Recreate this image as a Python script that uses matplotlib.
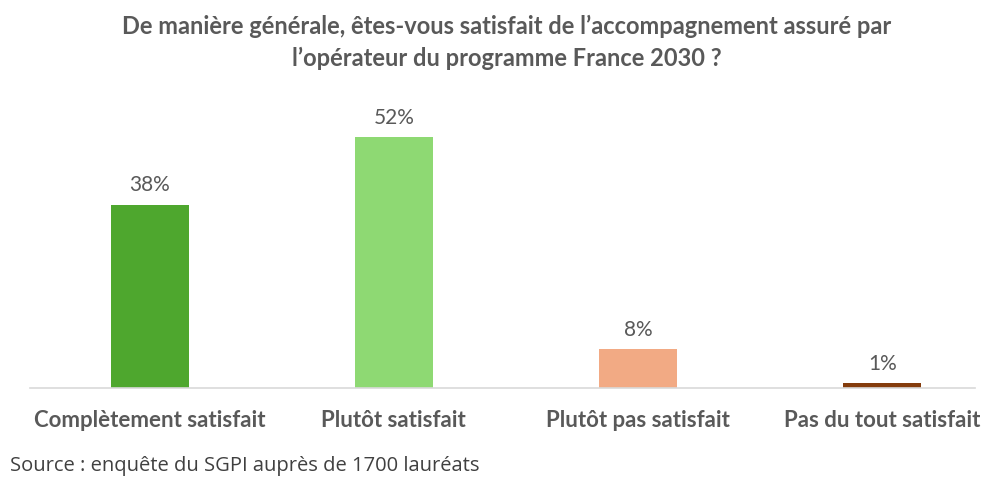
import matplotlib.pyplot as plt

# Survey answers and shares (%)
categories = ["Complètement satisfait", "Plutôt satisfait", "Plutôt pas satisfait", "Pas du tout satisfait"]
values = [38, 52, 8, 1]
colors = ["#4EA72E", "#8ED973", "#F2AA84", "#843C0C"]

title = "De manière générale, êtes-vous satisfait de l’accompagnement assuré par\nl’opérateur du programme France 2030 ?"
source = "Source : enquête du SGPI auprès de 1700 lauréats"

plt.rcParams['font.family'] = ['Lato', 'DejaVu Sans']
text_color = "#595959"

fig = plt.figure(figsize=(9.87, 4.79), dpi=100)
ax = fig.add_axes([30 / 987, 91 / 479, 945 / 987, 265 / 479])

x = range(len(categories))
bars = ax.bar(x, values, width=0.32, color=colors)
for xi, v in zip(x, values):
    ax.text(xi, v + 2.0, f"{v}%", ha='center', va='bottom', fontsize=15, color=text_color)

ax.set_xlim(-0.49, 3.38)
ax.set_ylim(0, 55)
ax.set_xticks(list(x))
ax.set_xticklabels(categories, fontsize=16, fontweight='bold', color=text_color)
ax.tick_params(axis='x', length=0, pad=16)
ax.set_yticks([])
for side in ['top', 'right', 'left']:
    ax.spines[side].set_visible(False)
ax.spines['bottom'].set_color('#D9D9D9')
ax.spines['bottom'].set_linewidth(1.2)

fig.text(507 / 987, 1 - 42 / 479, title, ha='center', va='center', fontsize=17,
         fontweight='bold', color=text_color, linespacing=1.45)
fig.text(10 / 987, 1 - 466 / 479, source, ha='left', va='center', fontsize=14.5,
         color='#404040', family=['Open Sans', 'DejaVu Sans'])

fig.savefig("out.png", dpi=100, facecolor='white')
